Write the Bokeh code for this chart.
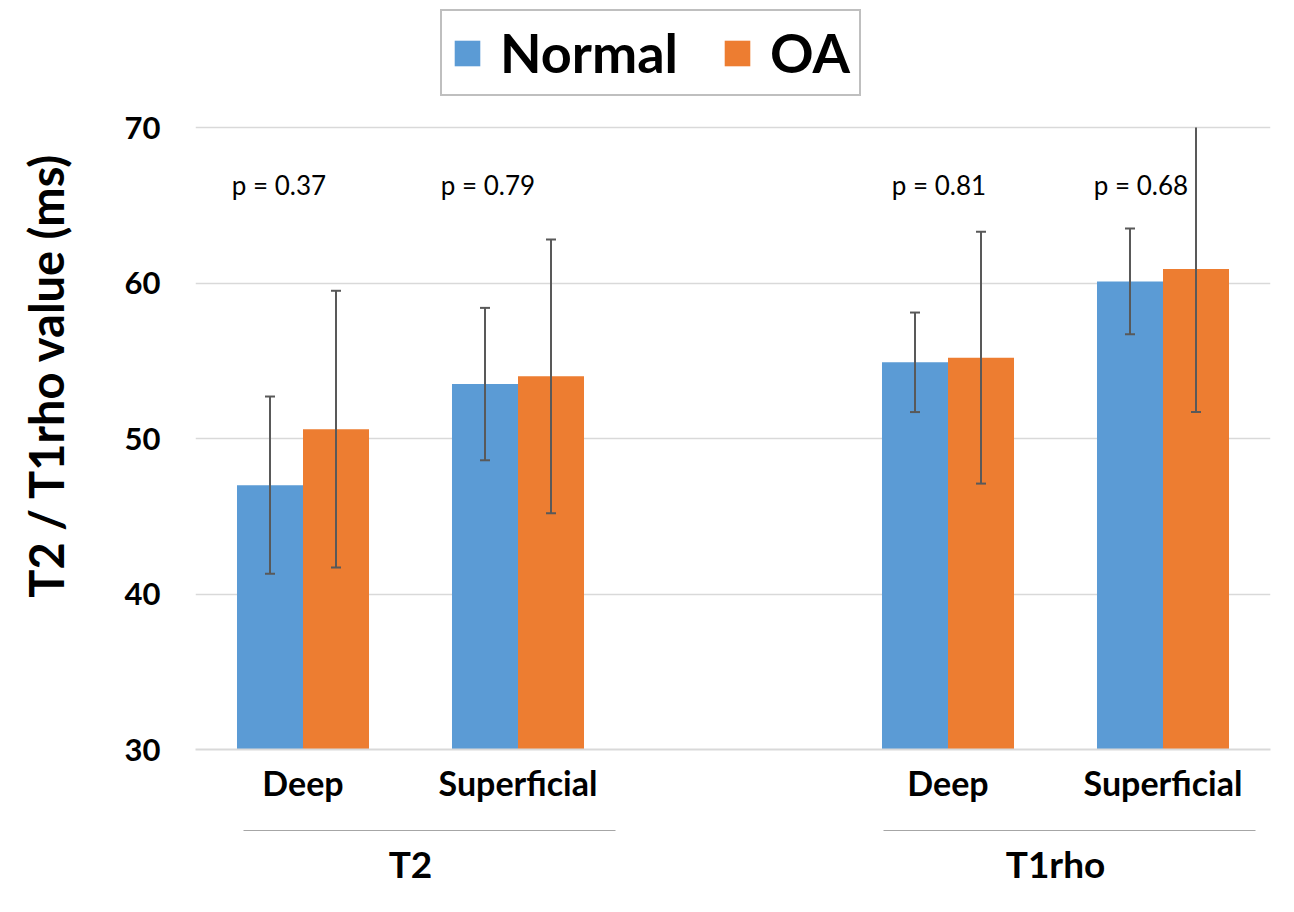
from bokeh.plotting import figure
from bokeh.models import (ColumnDataSource, FactorRange, Legend, LegendItem,
                          FixedTicker, CategoricalAxis, CDSView, BooleanFilter)
from bokeh.transform import dodge
from bokeh.core.properties import value
from bokeh.embed import file_html
from bokeh.resources import INLINE

# ---- data ----
groups = ["T2", "T2", "T1rho", "T1rho"]
layers = ["Deep", "Superficial", "Deep", "Superficial"]
group_names = ["T2", "T1rho"]
normal_mean = [47.0, 53.5, 54.9, 60.1]
normal_low = [41.3, 48.6, 51.7, 56.7]
normal_high = [52.7, 58.4, 58.1, 63.5]
oa_mean = [50.6, 54.0, 55.2, 60.9]
oa_low = [41.7, 45.2, 47.1, 51.7]
oa_high = [59.5, 62.8, 63.3, 70.1]
p_labels = ["p = 0.37", "p = 0.79", "p = 0.81", "p = 0.68"]
p_y = [66.3, 66.3, 66.3, 66.3]
y_ticks = [30, 40, 50, 60, 70]

BLUE = "#5B9BD5"
ORANGE = "#ED7D31"
ERR = "#595959"
FONT = "Lato"

# ---- layout constants (pixels) ----
W, H = 1290, 908
AXIS_TOP_PX = 127          # where the top tick (70) sits
FRAME_BOTTOM_PX = 749
y_min, y_max = y_ticks[0], y_ticks[-1]
px_per_unit = (FRAME_BOTTOM_PX - AXIS_TOP_PX) / (y_max - y_min)
y_end = y_max + AXIS_TOP_PX / px_per_unit   # room above for the legend

factors = list(zip(groups, layers))
src = ColumnDataSource(dict(
    x=factors, nm=normal_mean, nl=normal_low,
    nh=[min(v, y_max) for v in normal_high],
    om=oa_mean, ol=oa_low, oh=[min(v, y_max) for v in oa_high],
    pl=p_labels, py=p_y, pdx=[-24, -30, -9, -22],
))
cap_n = CDSView(filter=BooleanFilter([v <= y_max for v in normal_high]))
cap_o = CDSView(filter=BooleanFilter([v <= y_max for v in oa_high]))

x_range = FactorRange(*factors, range_padding=0, group_padding=1.0,
                      factor_padding=0)
p = figure(x_range=x_range, y_range=(y_min, y_end), output_backend="svg",
           toolbar_location=None, width=W, height=H,
           min_border_left=195, min_border_right=20, min_border_top=0,
           min_border_bottom=H - FRAME_BOTTOM_PX)

bw = 0.307
off = bw / 2
r_n = p.vbar(x=dodge("x", -off, range=p.x_range), top="nm", bottom=0, width=bw,
             source=src, fill_color=BLUE, line_color=None)
r_o = p.vbar(x=dodge("x", off, range=p.x_range), top="om", bottom=0, width=bw,
             source=src, fill_color=ORANGE, line_color=None)

for d, lo, hi, view in [(-off, "nl", "nh", cap_n), (off, "ol", "oh", cap_o)]:
    xd = dodge("x", d, range=p.x_range)
    p.segment(x0=xd, y0=lo, x1=xd, y1=hi, source=src, line_color=ERR, line_width=2)
    p.scatter(x=xd, y=lo, source=src, marker="dash", size=10, line_color=ERR, line_width=2)
    p.scatter(x=xd, y=hi, source=src, view=view, marker="dash", size=10,
              line_color=ERR, line_width=2)

p.text(x="x", y="py", text="pl", x_offset="pdx", source=src, text_align="center",
       text_baseline="middle", text_font=value(FONT), text_font_size="26px",
       text_color="black")

# y axis
p.yaxis.ticker = FixedTicker(ticks=y_ticks)
p.yaxis.axis_line_color = None
p.yaxis.major_tick_line_color = None
p.yaxis.minor_tick_line_color = None
p.yaxis.major_tick_out = 0
p.yaxis.major_label_text_font = FONT
p.yaxis.major_label_text_font_size = "31px"
p.yaxis.major_label_text_font_style = "bold"
p.yaxis.major_label_text_color = "black"
p.yaxis.major_label_standoff = 35
p.yaxis.axis_label = "T2 / T1rho value (ms)"
p.yaxis.axis_label_text_font = FONT
p.yaxis.axis_label_text_font_size = "47px"
p.yaxis.axis_label_text_font_style = "bold"
p.yaxis.axis_label_text_color = "black"
p.yaxis.axis_label_standoff = 48

# main x axis: sub-category labels only
p.xaxis.axis_line_color = "#d9d9d9"
p.xaxis.axis_line_width = 2
p.xaxis.major_tick_line_color = None
p.xaxis.minor_tick_line_color = None
p.xaxis.major_tick_out = 0
p.xaxis.major_label_text_font = FONT
p.xaxis.major_label_text_font_size = "34px"
p.xaxis.major_label_text_font_style = "bold"
p.xaxis.major_label_text_color = "black"
p.xaxis.major_label_standoff = 12
p.xaxis.group_text_font_size = "0px"
p.xaxis.group_text_color = None
p.xaxis.separator_line_color = None
p.xaxis.axis_label = " "
p.xaxis.axis_label_text_font_size = "15px"
p.xaxis.axis_label_standoff = 5

# group axis: its dashed, bounded axis line gives the line under each group
p.extra_x_ranges = {
    "grp": FactorRange(*group_names, factor_padding=0.5, range_padding=0),
}
grp_axis = CategoricalAxis(x_range_name="grp", bounds=(0.1116, 2.465),
                           axis_line_color="#a6a6a6", axis_line_width=1.2,
                           axis_line_dash="372 268",
                           major_tick_line_color=None, minor_tick_line_color=None,
                           major_tick_out=0,
                           major_label_text_font=FONT,
                           major_label_text_font_size="37px",
                           major_label_text_font_style="bold",
                           major_label_text_color="black",
                           major_label_standoff=10)
p.add_layout(grp_axis, "below")

p.xgrid.grid_line_color = None
p.ygrid.grid_line_color = "#d9d9d9"
p.ygrid.grid_line_width = 1.5
p.outline_line_color = None

legend = Legend(items=[LegendItem(label="Normal", renderers=[r_n]),
                       LegendItem(label="OA", renderers=[r_o])],
                orientation="horizontal", location=(245, FRAME_BOTTOM_PX - 96),
                label_text_font=FONT, label_text_font_size="54px",
                label_text_font_style="bold", label_text_color="black",
                glyph_width=32, glyph_height=32, label_standoff=17,
                spacing=43, padding=9, margin=0,
                border_line_color="#7f7f7f", border_line_width=2)
p.add_layout(legend, "center")

open("out.html", "w").write(file_html(p, INLINE))
